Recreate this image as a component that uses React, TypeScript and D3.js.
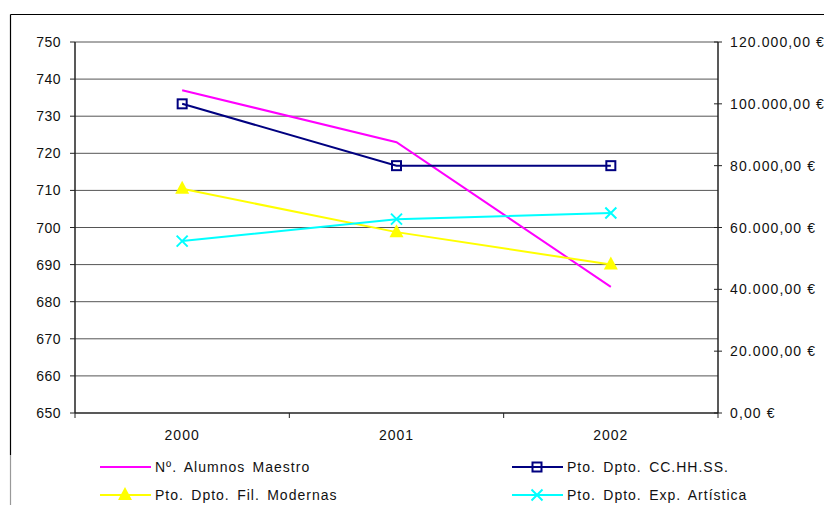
import React from "react";
import * as d3 from "d3";

const years = ["2000", "2001", "2002"];
const alumnos = [737, 723, 684];
const ccHHSS = [100000, 80000, 80000];
const filModernas = [72500, 58500, 48000];
const expArtistica = [55600, 62700, 64700];
const leftTicks = [650, 660, 670, 680, 690, 700, 710, 720, 730, 740, 750];
const rightTicks = [0, 20000, 40000, 60000, 80000, 100000, 120000];

const W = 824, H = 505;
const plot = { left: 75, right: 718, top: 42, bottom: 413 };
const FONT = "'Liberation Sans', Arial, sans-serif";

const fmtEuro = (v: number) => {
  const s = d3.format(",.2f")(v);
  return s.replace(/,/g, "#").replace(".", ",").replace(/#/g, ".") + " €";
};

export default function App() {
  const x = d3.scaleBand<string>().domain(years).range([plot.left, plot.right]).padding(0);
  const cx = (d: string) => (x(d) as number) + x.bandwidth() / 2;
  const yL = d3.scaleLinear().domain([650, 750]).range([plot.bottom, plot.top]);
  const yR = d3.scaleLinear().domain([0, 120000]).range([plot.bottom, plot.top]);

  const lineL = d3.line<number>().x((_, i) => cx(years[i])).y((v) => yL(v));
  const lineR = d3.line<number>().x((_, i) => cx(years[i])).y((v) => yR(v));

  const boundaries = [plot.left, ...years.map((d) => (x(d) as number) + x.bandwidth())];

  const square = (px: number, py: number, key: string, color: string) => (
    <rect key={key} x={px - 4.5} y={py - 4.5} width={9} height={9} fill="none" stroke={color} strokeWidth={2} />
  );
  const tri = (px: number, py: number, key: string, color: string) => (
    <path key={key} d={`M${px},${py - 8}L${px + 7},${py + 5}L${px - 7},${py + 5}Z`} fill={color} />
  );
  const cross = (px: number, py: number, key: string, color: string) => (
    <path key={key} d={`M${px - 5.5},${py - 5.5}L${px + 5.5},${py + 5.5}M${px + 5.5},${py - 5.5}L${px - 5.5},${py + 5.5}`} stroke={color} strokeWidth={2} />
  );

  const legend = [
    { label: "Nº. Alumnos Maestro", color: "#FF00FF", marker: null as any, lx: 100, ly: 467 },
    { label: "Pto. Dpto. CC.HH.SS.", color: "#000080", marker: square, lx: 512, ly: 467 },
    { label: "Pto. Dpto. Fil. Modernas", color: "#FFFF00", marker: tri, lx: 100, ly: 495 },
    { label: "Pto. Dpto. Exp. Artística", color: "#00FFFF", marker: cross, lx: 512, ly: 495 },
  ];

  return (
    <svg width={W} height={H} style={{ position: "absolute", left: 0, top: 0 }} fontFamily={FONT}>
      <rect x={0} y={0} width={W} height={H} fill="#fff" />
      {/* outer frame */}
      <line x1={10.5} y1={14.5} x2={W} y2={14.5} stroke="#000" strokeWidth={1.2} />
      <line x1={10.5} y1={14.5} x2={10.5} y2={455} stroke="#000" strokeWidth={1.2} />
      <line x1={10.5} y1={455} x2={10.5} y2={H} stroke="#999" strokeWidth={1.2} />

      {/* gridlines */}
      {leftTicks.slice(1).map((t) => (
        <line key={"g" + t} x1={plot.left} x2={plot.right} y1={yL(t)} y2={yL(t)} stroke="#555" strokeWidth={1} />
      ))}

      {/* left axis */}
      <line x1={plot.left} x2={plot.left} y1={plot.top} y2={plot.bottom} stroke="#222" strokeWidth={1.5} />
      {leftTicks.map((t) => (
        <g key={"l" + t}>
          <line x1={plot.left - 5} x2={plot.left} y1={yL(t)} y2={yL(t)} stroke="#222" strokeWidth={1} />
          <text x={61} y={yL(t) + 5} textAnchor="end" fontSize={14} letterSpacing={0.5} fill="#111">{t}</text>
        </g>
      ))}

      {/* right axis */}
      <line x1={plot.right} x2={plot.right} y1={plot.top} y2={plot.bottom} stroke="#222" strokeWidth={1.5} />
      {rightTicks.map((t) => (
        <g key={"r" + t}>
          <line x1={plot.right - 4} x2={plot.right + 4} y1={yR(t)} y2={yR(t)} stroke="#222" strokeWidth={1} />
          <text x={730} y={yR(t) + 5} fontSize={14} letterSpacing={1.1} fill="#111">{fmtEuro(t)}</text>
        </g>
      ))}

      {/* bottom axis */}
      <line x1={plot.left} x2={plot.right} y1={plot.bottom} y2={plot.bottom} stroke="#222" strokeWidth={1.5} />
      {boundaries.map((b, i) => (
        <line key={"xb" + i} x1={b} x2={b} y1={plot.bottom} y2={plot.bottom + 5} stroke="#222" strokeWidth={1} />
      ))}
      {years.map((yv) => (
        <text key={"x" + yv} x={cx(yv)} y={440} textAnchor="middle" fontSize={14} letterSpacing={1} fill="#111">{yv}</text>
      ))}

      {/* series */}
      <path d={lineL(alumnos) as string} fill="none" stroke="#FF00FF" strokeWidth={2} />
      <path d={lineR(ccHHSS) as string} fill="none" stroke="#000080" strokeWidth={2} />
      <path d={lineR(filModernas) as string} fill="none" stroke="#FFFF00" strokeWidth={2} />
      <path d={lineR(expArtistica) as string} fill="none" stroke="#00FFFF" strokeWidth={2} />
      {ccHHSS.map((v, i) => square(cx(years[i]), yR(v), "s" + i, "#000080"))}
      {filModernas.map((v, i) => tri(cx(years[i]), yR(v), "t" + i, "#FFFF00"))}
      {expArtistica.map((v, i) => cross(cx(years[i]), yR(v), "c" + i, "#00FFFF"))}

      {/* legend */}
      {legend.map((l) => (
        <g key={l.label}>
          <line x1={l.lx} x2={l.lx + 51} y1={l.ly} y2={l.ly} stroke={l.color} strokeWidth={2} />
          {l.marker && l.marker(l.lx + 25, l.ly, "m" + l.label, l.color)}
          <text x={l.lx + 55} y={l.ly + 5} fontSize={14} letterSpacing={1} wordSpacing={2.5} fill="#111">{l.label}</text>
        </g>
      ))}
    </svg>
  );
}
